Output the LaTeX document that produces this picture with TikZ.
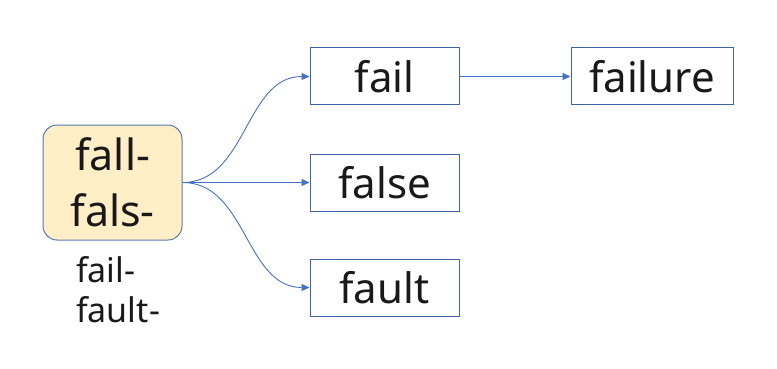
\documentclass[tikz,border=0pt]{standalone}
\usepackage{fontspec}
\setmainfont{Noto Sans}
\usetikzlibrary{arrows.meta}
\definecolor{boxblue}{HTML}{3F62A8}
\definecolor{arrowblue}{HTML}{4472C4}
\definecolor{rootfill}{HTML}{FFEEC6}
\definecolor{rootline}{HTML}{5A7BB0}
\tikzset{
  wordbox/.style={draw=boxblue, line width=1pt, minimum width=149pt, minimum height=57pt, inner sep=0pt, font=\fontsize{42}{46}\selectfont, text=black!90},
  rootbox/.style={draw=rootline, fill=rootfill, line width=1pt, rounded corners=14pt, minimum width=139pt, minimum height=115pt, inner sep=0pt, align=center, font=\fontsize{43}{56}\selectfont, text=black!90},
  note/.style={align=left, font=\fontsize{34}{40}\selectfont, text=black!90, inner sep=0pt, anchor=north west},
  conn/.style={draw=arrowblue, line width=0.9pt, -{Triangle[length=8pt,width=7pt]}}
}
\begin{document}
\begin{tikzpicture}[x=1pt,y=-1pt]
\useasboundingbox (0,0) rectangle (777,369);
\node[rootbox] (root) at (112.5,182.5) {fall-\\fals-};
\node[note] (notes) at (76,256) {fail-\\fault-};
\node[wordbox] (fail) at (384.5,76.5) {fail};
\node[wordbox] (false) at (384.5,182.5) {false};
\node[wordbox] (fault) at (384.5,287.5) {fault};
\node[wordbox, minimum width=162pt] (failure) at (652,76.5) {failure};
\draw[conn] (root.east) to[out=0,in=180] (fail.west);
\draw[conn] (root.east) to[out=0,in=180] (false.west);
\draw[conn] (root.east) to[out=0,in=180] (fault.west);
\draw[conn] (fail.east) -- (failure.west);
\end{tikzpicture}
\end{document}
